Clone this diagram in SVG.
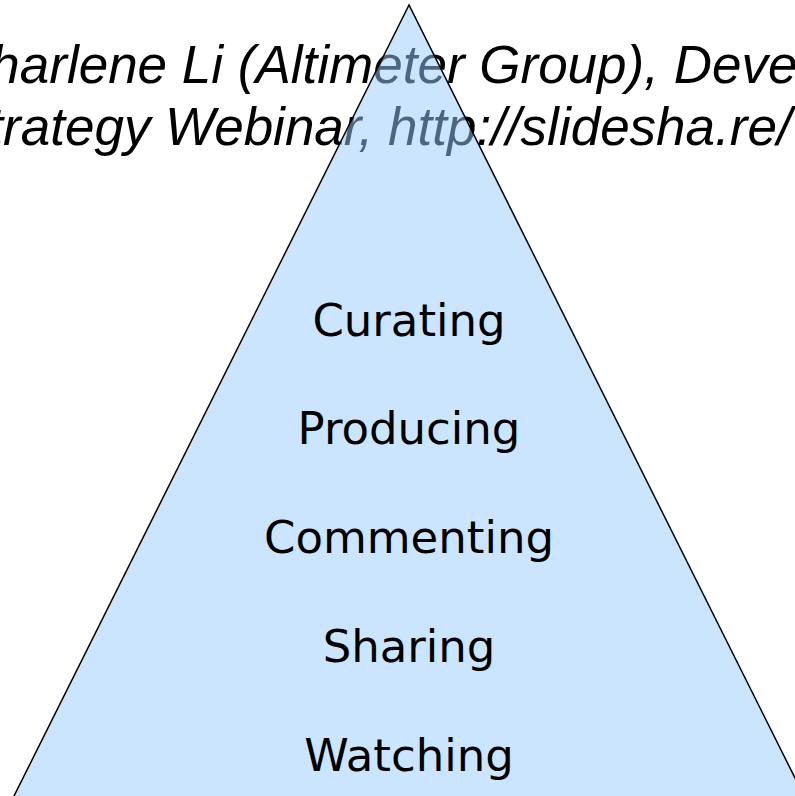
<svg xmlns="http://www.w3.org/2000/svg" width="795" height="796" viewBox="0 0 795 796">
  <style>
    .cite { font-family: "Liberation Sans", Arial, sans-serif; font-style: italic; font-size: 53px; fill: #000; }
    .tri { fill: #99ccff; fill-opacity: 0.5; stroke: #000; stroke-width: 1.5; }
    .lvl { font-family: "DejaVu Sans", sans-serif; font-size: 45px; fill: #000; text-anchor: middle; }
  </style>
  <rect width="795" height="796" fill="#ffffff"/>
  <g id="citation">
    <text class="cite" x="-48" y="83">Charlene Li (Altimeter Group), Developing</text>
    <text class="cite" x="-47" y="145">Strategy Webinar, http://slidesha.re/</text>
  </g>
  <g id="pyramid">
    <polygon class="tri" points="409,5 12,800 806,800"/>
  </g>
  <g id="levels">
    <text class="lvl" x="409" y="336">Curating</text>
    <text class="lvl" x="409" y="444">Producing</text>
    <text class="lvl" x="409" y="553">Commenting</text>
    <text class="lvl" x="409" y="662">Sharing</text>
    <text class="lvl" x="409" y="771">Watching</text>
  </g>
  <g id="connectors"></g>
</svg>
